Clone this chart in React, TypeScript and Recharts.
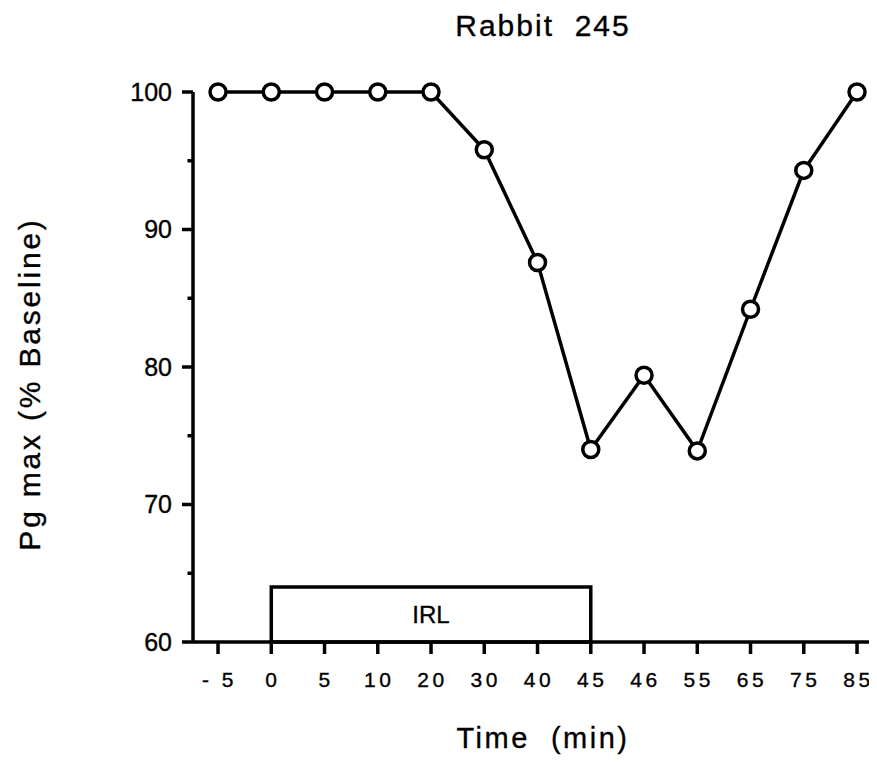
import React from 'react';
import { LineChart, Line, XAxis, YAxis, ReferenceArea } from 'recharts';

const timeLabels = ['-5', '0', '5', '10', '20', '30', '40', '45', '46', '55', '65', '75', '85'];
const pgMax = [100, 100, 100, 100, 100, 95.8, 87.6, 74.0, 79.4, 73.9, 84.2, 94.3, 100];
const yTicks = [60, 65, 70, 75, 80, 85, 90, 95, 100];
const irlStart = '0';
const irlEnd = '45';
const irlLevel = 64;

const data = pgMax.map((v, i) => ({ i, pg: v }));
const xTicks = timeLabels.map((_, i) => i);

const FONT = '"Liberation Sans", Arial, Helvetica, sans-serif';
const TS = 0.35; // text outline to thicken glyphs

const XTick = (props: any) => {
  const { x, y, payload } = props;
  const lbl = timeLabels[payload.value] ?? '';
  const txt = lbl.startsWith('-') ? '- ' + lbl.slice(1) : lbl;
  return (
    <text x={x + 1.5} y={y} dy="0.71em" textAnchor="middle" fontSize={21} letterSpacing={3.5}
      fontFamily={FONT} fill="#000" stroke="#000" strokeWidth={TS} style={{ whiteSpace: 'pre' }}>{txt}</text>
  );
};

const YTick = (props: any) => {
  const { x, y, payload } = props;
  const major = payload.value % 10 === 0;
  return (
    <g>
      <line x1={major ? x : x + 5.5} x2={x + 11} y1={y} y2={y} stroke="#000" strokeWidth={3.5} />
      {major && (
        <text x={x - 10} y={y} dy="0.355em" textAnchor="end" fontSize={25} fontFamily={FONT}
          fill="#000" stroke="#000" strokeWidth={TS}>
          {payload.value}
        </text>
      )}
    </g>
  );
};

export default function App() {
  return (
    <LineChart width={869} height={754} data={data} margin={{ top: 84, right: 0, bottom: 60, left: 105 }}>
      <XAxis
        type="number"
        dataKey="i"
        domain={[-0.47, 12.375]}
        ticks={xTicks}
        allowDataOverflow
        interval={0}
        tickSize={12}
        tickMargin={18}
        height={60}
        axisLine={{ stroke: '#000', strokeWidth: 3.5 }}
        tickLine={{ stroke: '#000', strokeWidth: 3.5 }}
        tick={<XTick />}
        label={{
          content: () => (
            <g fontFamily={FONT} fill="#000" stroke="#000" strokeWidth={TS}>
              <text x={535} y={740} textAnchor="middle" fontSize={29} letterSpacing={2.5} style={{ whiteSpace: 'pre' }}>
                {'Time  (min)'}
              </text>
              <text x={535} y={28} textAnchor="middle" fontSize={30} letterSpacing={2} style={{ whiteSpace: 'pre' }}>
                {'Rabbit  245'}
              </text>
            </g>
          ),
        }}
      />
      <YAxis
        type="number"
        domain={[60, 100]}
        ticks={yTicks}
        interval={0}
        width={80}
        tickSize={11}
        tickMargin={0}
        tickLine={false}
        axisLine={{ stroke: '#000', strokeWidth: 3.5 }}
        tick={<YTick />}
        label={{
          content: () => (
            <text x={32} y={376} transform="rotate(-90, 32, 376)" textAnchor="middle" fontSize={30}
              letterSpacing={2.8} fontFamily={FONT} fill="#000" stroke="#000" strokeWidth={TS}>
              Pg max (% Baseline)
            </text>
          ),
        }}
      />
      <ReferenceArea
        x1={timeLabels.indexOf(irlStart)}
        x2={timeLabels.indexOf(irlEnd)}
        y1={60}
        y2={irlLevel}
        fill="none"
        fillOpacity={0}
        stroke="#000"
        strokeWidth={3.5}
        strokeOpacity={1}
        label={{ value: 'IRL', position: 'center', fill: '#000', fontSize: 24, fontFamily: FONT, stroke: '#000', strokeWidth: TS }}
      />
      <Line
        type="linear"
        dataKey="pg"
        stroke="#000"
        strokeWidth={3.5}
        dot={{ r: 8, fill: '#fff', stroke: '#000', strokeWidth: 3.5 }}
        isAnimationActive={false}
      />
    </LineChart>
  );
}
